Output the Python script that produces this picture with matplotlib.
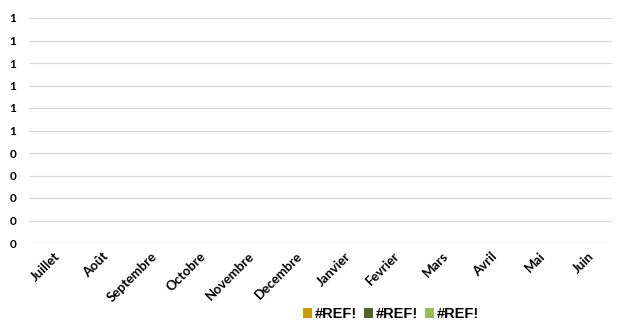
#!/usr/bin/env python3
"""Monthly chart with broken (#REF!) series, Excel style."""

import matplotlib
matplotlib.use("Agg")
import matplotlib.pyplot as plt
import numpy as np
from matplotlib.ticker import FuncFormatter

months = ["Juillet", "Août", "Septembre", "Octobre", "Novembre", "Decembre",
          "Janvier", "Fevrier", "Mars", "Avril", "Mai", "Juin"]
series_names = ["#REF!", "#REF!", "#REF!"]
series_colors = ["#C99A06", "#4F6228", "#9BBB59"]
# the source cells are broken, so every value is missing
series_values = [
    [np.nan] * 12,
    [np.nan] * 12,
    [np.nan] * 12,
]
y_ticks = [0.0, 0.1, 0.2, 0.3, 0.4, 0.5, 0.6, 0.7, 0.8, 0.9, 1.0]


def excel_round(v, pos):
    return f"{int(np.floor(v + 0.5 + 1e-9))}"


fig = plt.figure(figsize=(6.21, 3.21), dpi=100)
ax = fig.add_axes([29 / 621, 1 - 243 / 321, (612 - 29) / 621, (243 - 18) / 321])

x = np.arange(len(months))
w = 0.25
for i, (name, vals, col) in enumerate(zip(series_names, series_values, series_colors)):
    ax.bar(x + (i - 1) * w, vals, width=w, color=col, label=name)

ax.set_xlim(-0.5, len(months) - 0.5)
ax.set_ylim(0, 1.0)
ax.set_yticks(y_ticks)
ax.yaxis.set_major_formatter(FuncFormatter(excel_round))
ax.grid(axis="y", color="#D9D9D9", lw=0.9)
ax.set_axisbelow(True)
for s in ax.spines.values():
    s.set_visible(False)
ax.tick_params(length=0)
ax.tick_params(axis="y", pad=14)

ax.set_xticks(x)
ax.set_xticklabels(months, rotation=45, ha="right", rotation_mode="anchor",
                   fontsize=9.5, fontweight="bold", family="Lato")
for lbl in ax.get_yticklabels():
    lbl.set_fontsize(8.5)
    lbl.set_fontweight("bold")
    lbl.set_family("Lato")
    lbl.set_horizontalalignment("left")
ax.tick_params(axis="x", pad=5)

fig.legend(loc="center", bbox_to_anchor=(0.63, 0.021), ncol=3, frameon=False,
           prop={"family": "Liberation Sans", "weight": "bold", "size": 10.5},
           handlelength=0.6, handleheight=0.6, handletextpad=0.2, columnspacing=0.5,
           borderaxespad=0)

fig.savefig("out.png", dpi=100)
